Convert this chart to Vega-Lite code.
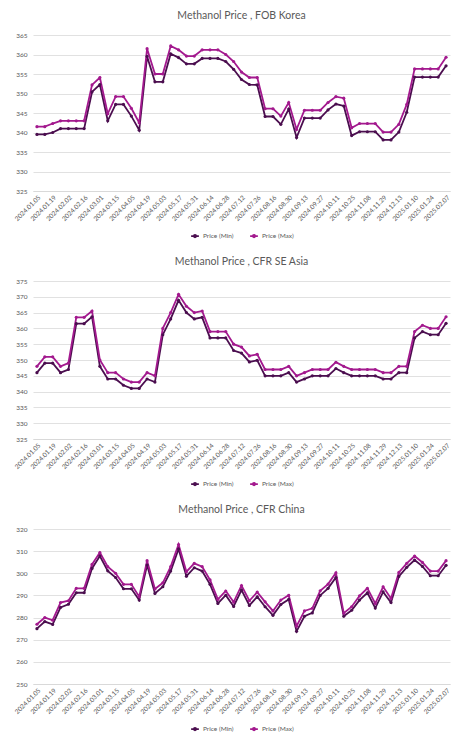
{
  "$schema": "https://vega.github.io/schema/vega-lite/v6.json",
  "background": "white",
  "padding": {"left": 13, "top": 10, "right": 12, "bottom": 4},
  "spacing": 15,
  "config": {
    "font": "Lato",
    "view": {"stroke": null},
    "axis": {"labelFont": "Lato", "labelColor": "#595959", "labelFontSize": 6.5, "ticks": false, "title": null, "gridColor": "#D9D9D9", "gridWidth": 0.8},
    "title": {"font": "Lato", "fontSize": 10.5, "fontWeight": "normal", "color": "#595959", "anchor": "middle", "offset": 11},
    "legend": {"labelFont": "Lato", "labelFontSize": 6.5, "labelColor": "#595959", "orient": "bottom", "direction": "horizontal", "title": null, "offset": 8, "symbolType": "M-1,0H1M-0.3,0A0.3,0.3,0,1,0,0.3,0A0.3,0.3,0,1,0,-0.3,0", "symbolSize": 60, "symbolStrokeWidth": 1.8, "columnPadding": 12, "labelOffset": 3, "layout": {"bottom": {"anchor": "middle"}}}
  },
  "datasets": {
    "prices": [
      {"market":"FOB Korea","date":"2024.01.05","series":"Price (Min)","price":339.5},{"market":"FOB Korea","date":"2024.01.05","series":"Price (Max)","price":341.5},
      {"market":"FOB Korea","date":"2024.01.12","series":"Price (Min)","price":339.5},{"market":"FOB Korea","date":"2024.01.12","series":"Price (Max)","price":341.5},
      {"market":"FOB Korea","date":"2024.01.19","series":"Price (Min)","price":340},{"market":"FOB Korea","date":"2024.01.19","series":"Price (Max)","price":342.3},
      {"market":"FOB Korea","date":"2024.01.26","series":"Price (Min)","price":341},{"market":"FOB Korea","date":"2024.01.26","series":"Price (Max)","price":343},
      {"market":"FOB Korea","date":"2024.02.02","series":"Price (Min)","price":341},{"market":"FOB Korea","date":"2024.02.02","series":"Price (Max)","price":343},
      {"market":"FOB Korea","date":"2024.02.09","series":"Price (Min)","price":341},{"market":"FOB Korea","date":"2024.02.09","series":"Price (Max)","price":343},
      {"market":"FOB Korea","date":"2024.02.16","series":"Price (Min)","price":341},{"market":"FOB Korea","date":"2024.02.16","series":"Price (Max)","price":343},
      {"market":"FOB Korea","date":"2024.02.23","series":"Price (Min)","price":350.4},{"market":"FOB Korea","date":"2024.02.23","series":"Price (Max)","price":352.2},
      {"market":"FOB Korea","date":"2024.03.01","series":"Price (Min)","price":352.3},{"market":"FOB Korea","date":"2024.03.01","series":"Price (Max)","price":354.1},
      {"market":"FOB Korea","date":"2024.03.08","series":"Price (Min)","price":343},{"market":"FOB Korea","date":"2024.03.08","series":"Price (Max)","price":344.8},
      {"market":"FOB Korea","date":"2024.03.15","series":"Price (Min)","price":347.2},{"market":"FOB Korea","date":"2024.03.15","series":"Price (Max)","price":349.2},
      {"market":"FOB Korea","date":"2024.03.22","series":"Price (Min)","price":347.2},{"market":"FOB Korea","date":"2024.03.22","series":"Price (Max)","price":349.2},
      {"market":"FOB Korea","date":"2024.04.05","series":"Price (Min)","price":344.2},{"market":"FOB Korea","date":"2024.04.05","series":"Price (Max)","price":346.2},
      {"market":"FOB Korea","date":"2024.04.12","series":"Price (Min)","price":340.6},{"market":"FOB Korea","date":"2024.04.12","series":"Price (Max)","price":342.5},
      {"market":"FOB Korea","date":"2024.04.19","series":"Price (Min)","price":359.5},{"market":"FOB Korea","date":"2024.04.19","series":"Price (Max)","price":361.5},
      {"market":"FOB Korea","date":"2024.04.26","series":"Price (Min)","price":353},{"market":"FOB Korea","date":"2024.04.26","series":"Price (Max)","price":355},
      {"market":"FOB Korea","date":"2024.05.03","series":"Price (Min)","price":353},{"market":"FOB Korea","date":"2024.05.03","series":"Price (Max)","price":355},
      {"market":"FOB Korea","date":"2024.05.10","series":"Price (Min)","price":360.2},{"market":"FOB Korea","date":"2024.05.10","series":"Price (Max)","price":362.2},
      {"market":"FOB Korea","date":"2024.05.17","series":"Price (Min)","price":359.2},{"market":"FOB Korea","date":"2024.05.17","series":"Price (Max)","price":361.2},
      {"market":"FOB Korea","date":"2024.05.24","series":"Price (Min)","price":357.6},{"market":"FOB Korea","date":"2024.05.24","series":"Price (Max)","price":359.6},
      {"market":"FOB Korea","date":"2024.05.31","series":"Price (Min)","price":357.6},{"market":"FOB Korea","date":"2024.05.31","series":"Price (Max)","price":359.6},
      {"market":"FOB Korea","date":"2024.06.07","series":"Price (Min)","price":359},{"market":"FOB Korea","date":"2024.06.07","series":"Price (Max)","price":361.2},
      {"market":"FOB Korea","date":"2024.06.14","series":"Price (Min)","price":359},{"market":"FOB Korea","date":"2024.06.14","series":"Price (Max)","price":361.2},
      {"market":"FOB Korea","date":"2024.06.21","series":"Price (Min)","price":359},{"market":"FOB Korea","date":"2024.06.21","series":"Price (Max)","price":361.2},
      {"market":"FOB Korea","date":"2024.06.28","series":"Price (Min)","price":358.2},{"market":"FOB Korea","date":"2024.06.28","series":"Price (Max)","price":360},
      {"market":"FOB Korea","date":"2024.07.05","series":"Price (Min)","price":356.2},{"market":"FOB Korea","date":"2024.07.05","series":"Price (Max)","price":358.2},
      {"market":"FOB Korea","date":"2024.07.12","series":"Price (Min)","price":353.6},{"market":"FOB Korea","date":"2024.07.12","series":"Price (Max)","price":355.5},
      {"market":"FOB Korea","date":"2024.07.19","series":"Price (Min)","price":352.3},{"market":"FOB Korea","date":"2024.07.19","series":"Price (Max)","price":354.1},
      {"market":"FOB Korea","date":"2024.07.26","series":"Price (Min)","price":352.2},{"market":"FOB Korea","date":"2024.07.26","series":"Price (Max)","price":354.1},
      {"market":"FOB Korea","date":"2024.08.09","series":"Price (Min)","price":344.1},{"market":"FOB Korea","date":"2024.08.09","series":"Price (Max)","price":346.1},
      {"market":"FOB Korea","date":"2024.08.16","series":"Price (Min)","price":344.1},{"market":"FOB Korea","date":"2024.08.16","series":"Price (Max)","price":346.1},
      {"market":"FOB Korea","date":"2024.08.23","series":"Price (Min)","price":342.1},{"market":"FOB Korea","date":"2024.08.23","series":"Price (Max)","price":344.2},
      {"market":"FOB Korea","date":"2024.08.30","series":"Price (Min)","price":346},{"market":"FOB Korea","date":"2024.08.30","series":"Price (Max)","price":347.7},
      {"market":"FOB Korea","date":"2024.09.06","series":"Price (Min)","price":338.7},{"market":"FOB Korea","date":"2024.09.06","series":"Price (Max)","price":340.8},
      {"market":"FOB Korea","date":"2024.09.13","series":"Price (Min)","price":343.7},{"market":"FOB Korea","date":"2024.09.13","series":"Price (Max)","price":345.7},
      {"market":"FOB Korea","date":"2024.09.20","series":"Price (Min)","price":343.7},{"market":"FOB Korea","date":"2024.09.20","series":"Price (Max)","price":345.7},
      {"market":"FOB Korea","date":"2024.09.27","series":"Price (Min)","price":343.7},{"market":"FOB Korea","date":"2024.09.27","series":"Price (Max)","price":345.7},
      {"market":"FOB Korea","date":"2024.10.04","series":"Price (Min)","price":345.8},{"market":"FOB Korea","date":"2024.10.04","series":"Price (Max)","price":347.7},
      {"market":"FOB Korea","date":"2024.10.11","series":"Price (Min)","price":347.3},{"market":"FOB Korea","date":"2024.10.11","series":"Price (Max)","price":349.2},
      {"market":"FOB Korea","date":"2024.10.18","series":"Price (Min)","price":346.8},{"market":"FOB Korea","date":"2024.10.18","series":"Price (Max)","price":348.8},
      {"market":"FOB Korea","date":"2024.10.25","series":"Price (Min)","price":339.2},{"market":"FOB Korea","date":"2024.10.25","series":"Price (Max)","price":341.2},
      {"market":"FOB Korea","date":"2024.11.01","series":"Price (Min)","price":340.2},{"market":"FOB Korea","date":"2024.11.01","series":"Price (Max)","price":342.3},
      {"market":"FOB Korea","date":"2024.11.08","series":"Price (Min)","price":340.2},{"market":"FOB Korea","date":"2024.11.08","series":"Price (Max)","price":342.3},
      {"market":"FOB Korea","date":"2024.11.22","series":"Price (Min)","price":340.2},{"market":"FOB Korea","date":"2024.11.22","series":"Price (Max)","price":342.3},
      {"market":"FOB Korea","date":"2024.11.29","series":"Price (Min)","price":338.1},{"market":"FOB Korea","date":"2024.11.29","series":"Price (Max)","price":340.1},
      {"market":"FOB Korea","date":"2024.12.06","series":"Price (Min)","price":338.1},{"market":"FOB Korea","date":"2024.12.06","series":"Price (Max)","price":340.1},
      {"market":"FOB Korea","date":"2024.12.13","series":"Price (Min)","price":340.1},{"market":"FOB Korea","date":"2024.12.13","series":"Price (Max)","price":342.1},
      {"market":"FOB Korea","date":"2024.12.20","series":"Price (Min)","price":345.2},{"market":"FOB Korea","date":"2024.12.20","series":"Price (Max)","price":347.2},
      {"market":"FOB Korea","date":"2025.01.10","series":"Price (Min)","price":354.2},{"market":"FOB Korea","date":"2025.01.10","series":"Price (Max)","price":356.3},
      {"market":"FOB Korea","date":"2025.01.17","series":"Price (Min)","price":354.2},{"market":"FOB Korea","date":"2025.01.17","series":"Price (Max)","price":356.3},
      {"market":"FOB Korea","date":"2025.01.24","series":"Price (Min)","price":354.2},{"market":"FOB Korea","date":"2025.01.24","series":"Price (Max)","price":356.3},
      {"market":"FOB Korea","date":"2025.01.31","series":"Price (Min)","price":354.2},{"market":"FOB Korea","date":"2025.01.31","series":"Price (Max)","price":356.3},
      {"market":"FOB Korea","date":"2025.02.07","series":"Price (Min)","price":357.1},{"market":"FOB Korea","date":"2025.02.07","series":"Price (Max)","price":359.3},

      {"market":"CFR SE Asia","date":"2024.01.05","series":"Price (Min)","price":346},{"market":"CFR SE Asia","date":"2024.01.05","series":"Price (Max)","price":348},
      {"market":"CFR SE Asia","date":"2024.01.12","series":"Price (Min)","price":349},{"market":"CFR SE Asia","date":"2024.01.12","series":"Price (Max)","price":351},
      {"market":"CFR SE Asia","date":"2024.01.19","series":"Price (Min)","price":349},{"market":"CFR SE Asia","date":"2024.01.19","series":"Price (Max)","price":351},
      {"market":"CFR SE Asia","date":"2024.01.26","series":"Price (Min)","price":346},{"market":"CFR SE Asia","date":"2024.01.26","series":"Price (Max)","price":348},
      {"market":"CFR SE Asia","date":"2024.02.02","series":"Price (Min)","price":347},{"market":"CFR SE Asia","date":"2024.02.02","series":"Price (Max)","price":349},
      {"market":"CFR SE Asia","date":"2024.02.09","series":"Price (Min)","price":361.5},{"market":"CFR SE Asia","date":"2024.02.09","series":"Price (Max)","price":363.5},
      {"market":"CFR SE Asia","date":"2024.02.16","series":"Price (Min)","price":361.5},{"market":"CFR SE Asia","date":"2024.02.16","series":"Price (Max)","price":363.5},
      {"market":"CFR SE Asia","date":"2024.02.23","series":"Price (Min)","price":363.7},{"market":"CFR SE Asia","date":"2024.02.23","series":"Price (Max)","price":365.5},
      {"market":"CFR SE Asia","date":"2024.03.01","series":"Price (Min)","price":348},{"market":"CFR SE Asia","date":"2024.03.01","series":"Price (Max)","price":350},
      {"market":"CFR SE Asia","date":"2024.03.08","series":"Price (Min)","price":344},{"market":"CFR SE Asia","date":"2024.03.08","series":"Price (Max)","price":346},
      {"market":"CFR SE Asia","date":"2024.03.15","series":"Price (Min)","price":344},{"market":"CFR SE Asia","date":"2024.03.15","series":"Price (Max)","price":346},
      {"market":"CFR SE Asia","date":"2024.03.22","series":"Price (Min)","price":342},{"market":"CFR SE Asia","date":"2024.03.22","series":"Price (Max)","price":344},
      {"market":"CFR SE Asia","date":"2024.04.05","series":"Price (Min)","price":341},{"market":"CFR SE Asia","date":"2024.04.05","series":"Price (Max)","price":343},
      {"market":"CFR SE Asia","date":"2024.04.12","series":"Price (Min)","price":341},{"market":"CFR SE Asia","date":"2024.04.12","series":"Price (Max)","price":343},
      {"market":"CFR SE Asia","date":"2024.04.19","series":"Price (Min)","price":344},{"market":"CFR SE Asia","date":"2024.04.19","series":"Price (Max)","price":346},
      {"market":"CFR SE Asia","date":"2024.04.26","series":"Price (Min)","price":343},{"market":"CFR SE Asia","date":"2024.04.26","series":"Price (Max)","price":345},
      {"market":"CFR SE Asia","date":"2024.05.03","series":"Price (Min)","price":358},{"market":"CFR SE Asia","date":"2024.05.03","series":"Price (Max)","price":360},
      {"market":"CFR SE Asia","date":"2024.05.10","series":"Price (Min)","price":363},{"market":"CFR SE Asia","date":"2024.05.10","series":"Price (Max)","price":365},
      {"market":"CFR SE Asia","date":"2024.05.17","series":"Price (Min)","price":368.9},{"market":"CFR SE Asia","date":"2024.05.17","series":"Price (Max)","price":370.8},
      {"market":"CFR SE Asia","date":"2024.05.24","series":"Price (Min)","price":365},{"market":"CFR SE Asia","date":"2024.05.24","series":"Price (Max)","price":367},
      {"market":"CFR SE Asia","date":"2024.05.31","series":"Price (Min)","price":363},{"market":"CFR SE Asia","date":"2024.05.31","series":"Price (Max)","price":365},
      {"market":"CFR SE Asia","date":"2024.06.07","series":"Price (Min)","price":363.5},{"market":"CFR SE Asia","date":"2024.06.07","series":"Price (Max)","price":365.5},
      {"market":"CFR SE Asia","date":"2024.06.14","series":"Price (Min)","price":357},{"market":"CFR SE Asia","date":"2024.06.14","series":"Price (Max)","price":359},
      {"market":"CFR SE Asia","date":"2024.06.21","series":"Price (Min)","price":357},{"market":"CFR SE Asia","date":"2024.06.21","series":"Price (Max)","price":359},
      {"market":"CFR SE Asia","date":"2024.06.28","series":"Price (Min)","price":357},{"market":"CFR SE Asia","date":"2024.06.28","series":"Price (Max)","price":359},
      {"market":"CFR SE Asia","date":"2024.07.05","series":"Price (Min)","price":353},{"market":"CFR SE Asia","date":"2024.07.05","series":"Price (Max)","price":355},
      {"market":"CFR SE Asia","date":"2024.07.12","series":"Price (Min)","price":352.2},{"market":"CFR SE Asia","date":"2024.07.12","series":"Price (Max)","price":354.1},
      {"market":"CFR SE Asia","date":"2024.07.19","series":"Price (Min)","price":349.4},{"market":"CFR SE Asia","date":"2024.07.19","series":"Price (Max)","price":351.3},
      {"market":"CFR SE Asia","date":"2024.07.26","series":"Price (Min)","price":349.9},{"market":"CFR SE Asia","date":"2024.07.26","series":"Price (Max)","price":351.8},
      {"market":"CFR SE Asia","date":"2024.08.09","series":"Price (Min)","price":345},{"market":"CFR SE Asia","date":"2024.08.09","series":"Price (Max)","price":347},
      {"market":"CFR SE Asia","date":"2024.08.16","series":"Price (Min)","price":345},{"market":"CFR SE Asia","date":"2024.08.16","series":"Price (Max)","price":347},
      {"market":"CFR SE Asia","date":"2024.08.23","series":"Price (Min)","price":345},{"market":"CFR SE Asia","date":"2024.08.23","series":"Price (Max)","price":347},
      {"market":"CFR SE Asia","date":"2024.08.30","series":"Price (Min)","price":346},{"market":"CFR SE Asia","date":"2024.08.30","series":"Price (Max)","price":348},
      {"market":"CFR SE Asia","date":"2024.09.06","series":"Price (Min)","price":343},{"market":"CFR SE Asia","date":"2024.09.06","series":"Price (Max)","price":345},
      {"market":"CFR SE Asia","date":"2024.09.13","series":"Price (Min)","price":344},{"market":"CFR SE Asia","date":"2024.09.13","series":"Price (Max)","price":346},
      {"market":"CFR SE Asia","date":"2024.09.20","series":"Price (Min)","price":345},{"market":"CFR SE Asia","date":"2024.09.20","series":"Price (Max)","price":347},
      {"market":"CFR SE Asia","date":"2024.09.27","series":"Price (Min)","price":345},{"market":"CFR SE Asia","date":"2024.09.27","series":"Price (Max)","price":347},
      {"market":"CFR SE Asia","date":"2024.10.04","series":"Price (Min)","price":345},{"market":"CFR SE Asia","date":"2024.10.04","series":"Price (Max)","price":347},
      {"market":"CFR SE Asia","date":"2024.10.11","series":"Price (Min)","price":347.3},{"market":"CFR SE Asia","date":"2024.10.11","series":"Price (Max)","price":349.3},
      {"market":"CFR SE Asia","date":"2024.10.18","series":"Price (Min)","price":346},{"market":"CFR SE Asia","date":"2024.10.18","series":"Price (Max)","price":348},
      {"market":"CFR SE Asia","date":"2024.10.25","series":"Price (Min)","price":345},{"market":"CFR SE Asia","date":"2024.10.25","series":"Price (Max)","price":347},
      {"market":"CFR SE Asia","date":"2024.11.01","series":"Price (Min)","price":345},{"market":"CFR SE Asia","date":"2024.11.01","series":"Price (Max)","price":347},
      {"market":"CFR SE Asia","date":"2024.11.08","series":"Price (Min)","price":345},{"market":"CFR SE Asia","date":"2024.11.08","series":"Price (Max)","price":347},
      {"market":"CFR SE Asia","date":"2024.11.22","series":"Price (Min)","price":345},{"market":"CFR SE Asia","date":"2024.11.22","series":"Price (Max)","price":347},
      {"market":"CFR SE Asia","date":"2024.11.29","series":"Price (Min)","price":344},{"market":"CFR SE Asia","date":"2024.11.29","series":"Price (Max)","price":346},
      {"market":"CFR SE Asia","date":"2024.12.06","series":"Price (Min)","price":344},{"market":"CFR SE Asia","date":"2024.12.06","series":"Price (Max)","price":346},
      {"market":"CFR SE Asia","date":"2024.12.13","series":"Price (Min)","price":346},{"market":"CFR SE Asia","date":"2024.12.13","series":"Price (Max)","price":348},
      {"market":"CFR SE Asia","date":"2024.12.20","series":"Price (Min)","price":346},{"market":"CFR SE Asia","date":"2024.12.20","series":"Price (Max)","price":348},
      {"market":"CFR SE Asia","date":"2025.01.10","series":"Price (Min)","price":357},{"market":"CFR SE Asia","date":"2025.01.10","series":"Price (Max)","price":359},
      {"market":"CFR SE Asia","date":"2025.01.17","series":"Price (Min)","price":359},{"market":"CFR SE Asia","date":"2025.01.17","series":"Price (Max)","price":361},
      {"market":"CFR SE Asia","date":"2025.01.24","series":"Price (Min)","price":358},{"market":"CFR SE Asia","date":"2025.01.24","series":"Price (Max)","price":360},
      {"market":"CFR SE Asia","date":"2025.01.31","series":"Price (Min)","price":358},{"market":"CFR SE Asia","date":"2025.01.31","series":"Price (Max)","price":360},
      {"market":"CFR SE Asia","date":"2025.02.07","series":"Price (Min)","price":361.6},{"market":"CFR SE Asia","date":"2025.02.07","series":"Price (Max)","price":363.7},

      {"market":"CFR China","date":"2024.01.05","series":"Price (Min)","price":275},{"market":"CFR China","date":"2024.01.05","series":"Price (Max)","price":277},
      {"market":"CFR China","date":"2024.01.12","series":"Price (Min)","price":278.2},{"market":"CFR China","date":"2024.01.12","series":"Price (Max)","price":280},
      {"market":"CFR China","date":"2024.01.19","series":"Price (Min)","price":276.9},{"market":"CFR China","date":"2024.01.19","series":"Price (Max)","price":278.8},
      {"market":"CFR China","date":"2024.01.26","series":"Price (Min)","price":284.6},{"market":"CFR China","date":"2024.01.26","series":"Price (Max)","price":286.8},
      {"market":"CFR China","date":"2024.02.02","series":"Price (Min)","price":286},{"market":"CFR China","date":"2024.02.02","series":"Price (Max)","price":287.6},
      {"market":"CFR China","date":"2024.02.09","series":"Price (Min)","price":291.2},{"market":"CFR China","date":"2024.02.09","series":"Price (Max)","price":293.2},
      {"market":"CFR China","date":"2024.02.16","series":"Price (Min)","price":291.2},{"market":"CFR China","date":"2024.02.16","series":"Price (Max)","price":293.2},
      {"market":"CFR China","date":"2024.02.23","series":"Price (Min)","price":302.2},{"market":"CFR China","date":"2024.02.23","series":"Price (Max)","price":304},
      {"market":"CFR China","date":"2024.03.01","series":"Price (Min)","price":307.8},{"market":"CFR China","date":"2024.03.01","series":"Price (Max)","price":309.4},
      {"market":"CFR China","date":"2024.03.08","series":"Price (Min)","price":301.1},{"market":"CFR China","date":"2024.03.08","series":"Price (Max)","price":303},
      {"market":"CFR China","date":"2024.03.15","series":"Price (Min)","price":298.1},{"market":"CFR China","date":"2024.03.15","series":"Price (Max)","price":300},
      {"market":"CFR China","date":"2024.03.22","series":"Price (Min)","price":293},{"market":"CFR China","date":"2024.03.22","series":"Price (Max)","price":295},
      {"market":"CFR China","date":"2024.04.05","series":"Price (Min)","price":293},{"market":"CFR China","date":"2024.04.05","series":"Price (Max)","price":295},
      {"market":"CFR China","date":"2024.04.12","series":"Price (Min)","price":287.9},{"market":"CFR China","date":"2024.04.12","series":"Price (Max)","price":289.4},
      {"market":"CFR China","date":"2024.04.19","series":"Price (Min)","price":303.7},{"market":"CFR China","date":"2024.04.19","series":"Price (Max)","price":305.7},
      {"market":"CFR China","date":"2024.04.26","series":"Price (Min)","price":290.9},{"market":"CFR China","date":"2024.04.26","series":"Price (Max)","price":292.9},
      {"market":"CFR China","date":"2024.05.03","series":"Price (Min)","price":293.9},{"market":"CFR China","date":"2024.05.03","series":"Price (Max)","price":295.7},
      {"market":"CFR China","date":"2024.05.10","series":"Price (Min)","price":301},{"market":"CFR China","date":"2024.05.10","series":"Price (Max)","price":303},
      {"market":"CFR China","date":"2024.05.17","series":"Price (Min)","price":311},{"market":"CFR China","date":"2024.05.17","series":"Price (Max)","price":313},
      {"market":"CFR China","date":"2024.05.24","series":"Price (Min)","price":298.7},{"market":"CFR China","date":"2024.05.24","series":"Price (Max)","price":300.7},
      {"market":"CFR China","date":"2024.05.31","series":"Price (Min)","price":302.5},{"market":"CFR China","date":"2024.05.31","series":"Price (Max)","price":304.5},
      {"market":"CFR China","date":"2024.06.07","series":"Price (Min)","price":301},{"market":"CFR China","date":"2024.06.07","series":"Price (Max)","price":303},
      {"market":"CFR China","date":"2024.06.14","series":"Price (Min)","price":295},{"market":"CFR China","date":"2024.06.14","series":"Price (Max)","price":297},
      {"market":"CFR China","date":"2024.06.21","series":"Price (Min)","price":286.4},{"market":"CFR China","date":"2024.06.21","series":"Price (Max)","price":288.2},
      {"market":"CFR China","date":"2024.06.28","series":"Price (Min)","price":290.1},{"market":"CFR China","date":"2024.06.28","series":"Price (Max)","price":292},
      {"market":"CFR China","date":"2024.07.05","series":"Price (Min)","price":285},{"market":"CFR China","date":"2024.07.05","series":"Price (Max)","price":287},
      {"market":"CFR China","date":"2024.07.12","series":"Price (Min)","price":292.4},{"market":"CFR China","date":"2024.07.12","series":"Price (Max)","price":294.5},
      {"market":"CFR China","date":"2024.07.19","series":"Price (Min)","price":285.5},{"market":"CFR China","date":"2024.07.19","series":"Price (Max)","price":287.6},
      {"market":"CFR China","date":"2024.07.26","series":"Price (Min)","price":289.4},{"market":"CFR China","date":"2024.07.26","series":"Price (Max)","price":291.5},
      {"market":"CFR China","date":"2024.08.09","series":"Price (Min)","price":284.9},{"market":"CFR China","date":"2024.08.09","series":"Price (Max)","price":287.1},
      {"market":"CFR China","date":"2024.08.16","series":"Price (Min)","price":281},{"market":"CFR China","date":"2024.08.16","series":"Price (Max)","price":283},
      {"market":"CFR China","date":"2024.08.23","series":"Price (Min)","price":285.9},{"market":"CFR China","date":"2024.08.23","series":"Price (Max)","price":287.9},
      {"market":"CFR China","date":"2024.08.30","series":"Price (Min)","price":288.2},{"market":"CFR China","date":"2024.08.30","series":"Price (Max)","price":290.1},
      {"market":"CFR China","date":"2024.09.06","series":"Price (Min)","price":273.8},{"market":"CFR China","date":"2024.09.06","series":"Price (Max)","price":276.1},
      {"market":"CFR China","date":"2024.09.13","series":"Price (Min)","price":280.6},{"market":"CFR China","date":"2024.09.13","series":"Price (Max)","price":283},
      {"market":"CFR China","date":"2024.09.20","series":"Price (Min)","price":282.1},{"market":"CFR China","date":"2024.09.20","series":"Price (Max)","price":284.2},
      {"market":"CFR China","date":"2024.09.27","series":"Price (Min)","price":290},{"market":"CFR China","date":"2024.09.27","series":"Price (Max)","price":292.1},
      {"market":"CFR China","date":"2024.10.04","series":"Price (Min)","price":293.2},{"market":"CFR China","date":"2024.10.04","series":"Price (Max)","price":295.1},
      {"market":"CFR China","date":"2024.10.11","series":"Price (Min)","price":298.1},{"market":"CFR China","date":"2024.10.11","series":"Price (Max)","price":300.2},
      {"market":"CFR China","date":"2024.10.18","series":"Price (Min)","price":280.6},{"market":"CFR China","date":"2024.10.18","series":"Price (Max)","price":282},
      {"market":"CFR China","date":"2024.10.25","series":"Price (Min)","price":283.3},{"market":"CFR China","date":"2024.10.25","series":"Price (Max)","price":284.9},
      {"market":"CFR China","date":"2024.11.01","series":"Price (Min)","price":287.9},{"market":"CFR China","date":"2024.11.01","series":"Price (Max)","price":289.8},
      {"market":"CFR China","date":"2024.11.08","series":"Price (Min)","price":291.2},{"market":"CFR China","date":"2024.11.08","series":"Price (Max)","price":293.2},
      {"market":"CFR China","date":"2024.11.22","series":"Price (Min)","price":284.3},{"market":"CFR China","date":"2024.11.22","series":"Price (Max)","price":286.4},
      {"market":"CFR China","date":"2024.11.29","series":"Price (Min)","price":291.6},{"market":"CFR China","date":"2024.11.29","series":"Price (Max)","price":293.9},
      {"market":"CFR China","date":"2024.12.06","series":"Price (Min)","price":286.8},{"market":"CFR China","date":"2024.12.06","series":"Price (Max)","price":288.6},
      {"market":"CFR China","date":"2024.12.13","series":"Price (Min)","price":298.6},{"market":"CFR China","date":"2024.12.13","series":"Price (Max)","price":300.4},
      {"market":"CFR China","date":"2024.12.20","series":"Price (Min)","price":302.7},{"market":"CFR China","date":"2024.12.20","series":"Price (Max)","price":304.5},
      {"market":"CFR China","date":"2025.01.10","series":"Price (Min)","price":306},{"market":"CFR China","date":"2025.01.10","series":"Price (Max)","price":307.8},
      {"market":"CFR China","date":"2025.01.17","series":"Price (Min)","price":303.1},{"market":"CFR China","date":"2025.01.17","series":"Price (Max)","price":304.9},
      {"market":"CFR China","date":"2025.01.24","series":"Price (Min)","price":298.9},{"market":"CFR China","date":"2025.01.24","series":"Price (Max)","price":301},
      {"market":"CFR China","date":"2025.01.31","series":"Price (Min)","price":298.9},{"market":"CFR China","date":"2025.01.31","series":"Price (Max)","price":301},
      {"market":"CFR China","date":"2025.02.07","series":"Price (Min)","price":303.6},{"market":"CFR China","date":"2025.02.07","series":"Price (Max)","price":305.7}
    ]
  },
  "vconcat": [
    {
      "title": "Methanol Price , FOB Korea",
      "width": 417, "height": 156,
      "data": {"name": "prices"},
      "transform": [{"filter": "datum.market === 'FOB Korea'"}],
      "mark": {"type": "line", "strokeWidth": 1.8, "point": {"filled": true, "size": 10}},
      "encoding": {
        "x": {"field": "date", "type": "ordinal", "sort": null, "scale": {"type": "point", "padding": 0.5},
              "axis": {"labelAngle": -45, "grid": false, "domain": true, "domainColor": "#D9D9D9", "labelPadding": 3,
                       "values": ["2024.01.05","2024.01.19","2024.02.02","2024.02.16","2024.03.01","2024.03.15","2024.04.05","2024.04.19","2024.05.03","2024.05.17","2024.05.31","2024.06.14","2024.06.28","2024.07.12","2024.07.26","2024.08.16","2024.08.30","2024.09.13","2024.09.27","2024.10.11","2024.10.25","2024.11.08","2024.11.29","2024.12.13","2025.01.10","2025.01.24","2025.02.07"]}},
        "y": {"field": "price", "type": "quantitative", "scale": {"domain": [325, 365], "zero": false, "nice": false},
              "axis": {"values": [325, 330, 335, 340, 345, 350, 355, 360, 365], "domain": false, "labelPadding": 6}},
        "color": {"field": "series", "type": "nominal", "scale": {"domain": ["Price (Min)", "Price (Max)"], "range": ["#4B0E4F", "#A3198E"]}}
      }
    },
    {
      "title": "Methanol Price , CFR SE Asia",
      "width": 417, "height": 158,
      "data": {"name": "prices"},
      "transform": [{"filter": "datum.market === 'CFR SE Asia'"}],
      "mark": {"type": "line", "strokeWidth": 1.8, "point": {"filled": true, "size": 10}},
      "encoding": {
        "x": {"field": "date", "type": "ordinal", "sort": null, "scale": {"type": "point", "padding": 0.5},
              "axis": {"labelAngle": -45, "grid": false, "domain": true, "domainColor": "#D9D9D9", "labelPadding": 3,
                       "values": ["2024.01.05","2024.01.19","2024.02.02","2024.02.16","2024.03.01","2024.03.15","2024.04.05","2024.04.19","2024.05.03","2024.05.17","2024.05.31","2024.06.14","2024.06.28","2024.07.12","2024.07.26","2024.08.16","2024.08.30","2024.09.13","2024.09.27","2024.10.11","2024.10.25","2024.11.08","2024.11.29","2024.12.13","2025.01.10","2025.01.24","2025.02.07"]}},
        "y": {"field": "price", "type": "quantitative", "scale": {"domain": [325, 375], "zero": false, "nice": false},
              "axis": {"values": [325, 330, 335, 340, 345, 350, 355, 360, 365, 370, 375], "domain": false, "labelPadding": 6}},
        "color": {"field": "series", "type": "nominal", "scale": {"domain": ["Price (Min)", "Price (Max)"], "range": ["#4B0E4F", "#A3198E"]}}
      }
    },
    {
      "title": "Methanol Price , CFR China",
      "width": 417, "height": 155,
      "data": {"name": "prices"},
      "transform": [{"filter": "datum.market === 'CFR China'"}],
      "mark": {"type": "line", "strokeWidth": 1.8, "point": {"filled": true, "size": 10}},
      "encoding": {
        "x": {"field": "date", "type": "ordinal", "sort": null, "scale": {"type": "point", "padding": 0.5},
              "axis": {"labelAngle": -45, "grid": false, "domain": true, "domainColor": "#D9D9D9", "labelPadding": 3,
                       "values": ["2024.01.05","2024.01.19","2024.02.02","2024.02.16","2024.03.01","2024.03.15","2024.04.05","2024.04.19","2024.05.03","2024.05.17","2024.05.31","2024.06.14","2024.06.28","2024.07.12","2024.07.26","2024.08.16","2024.08.30","2024.09.13","2024.09.27","2024.10.11","2024.10.25","2024.11.08","2024.11.29","2024.12.13","2025.01.10","2025.01.24","2025.02.07"]}},
        "y": {"field": "price", "type": "quantitative", "scale": {"domain": [250, 320], "zero": false, "nice": false},
              "axis": {"values": [250, 260, 270, 280, 290, 300, 310, 320], "domain": false, "labelPadding": 6}},
        "color": {"field": "series", "type": "nominal", "scale": {"domain": ["Price (Min)", "Price (Max)"], "range": ["#4B0E4F", "#A3198E"]}}
      }
    }
  ],
  "resolve": {"scale": {"color": "independent", "y": "independent", "x": "independent"}, "legend": {"color": "independent"}}
}
